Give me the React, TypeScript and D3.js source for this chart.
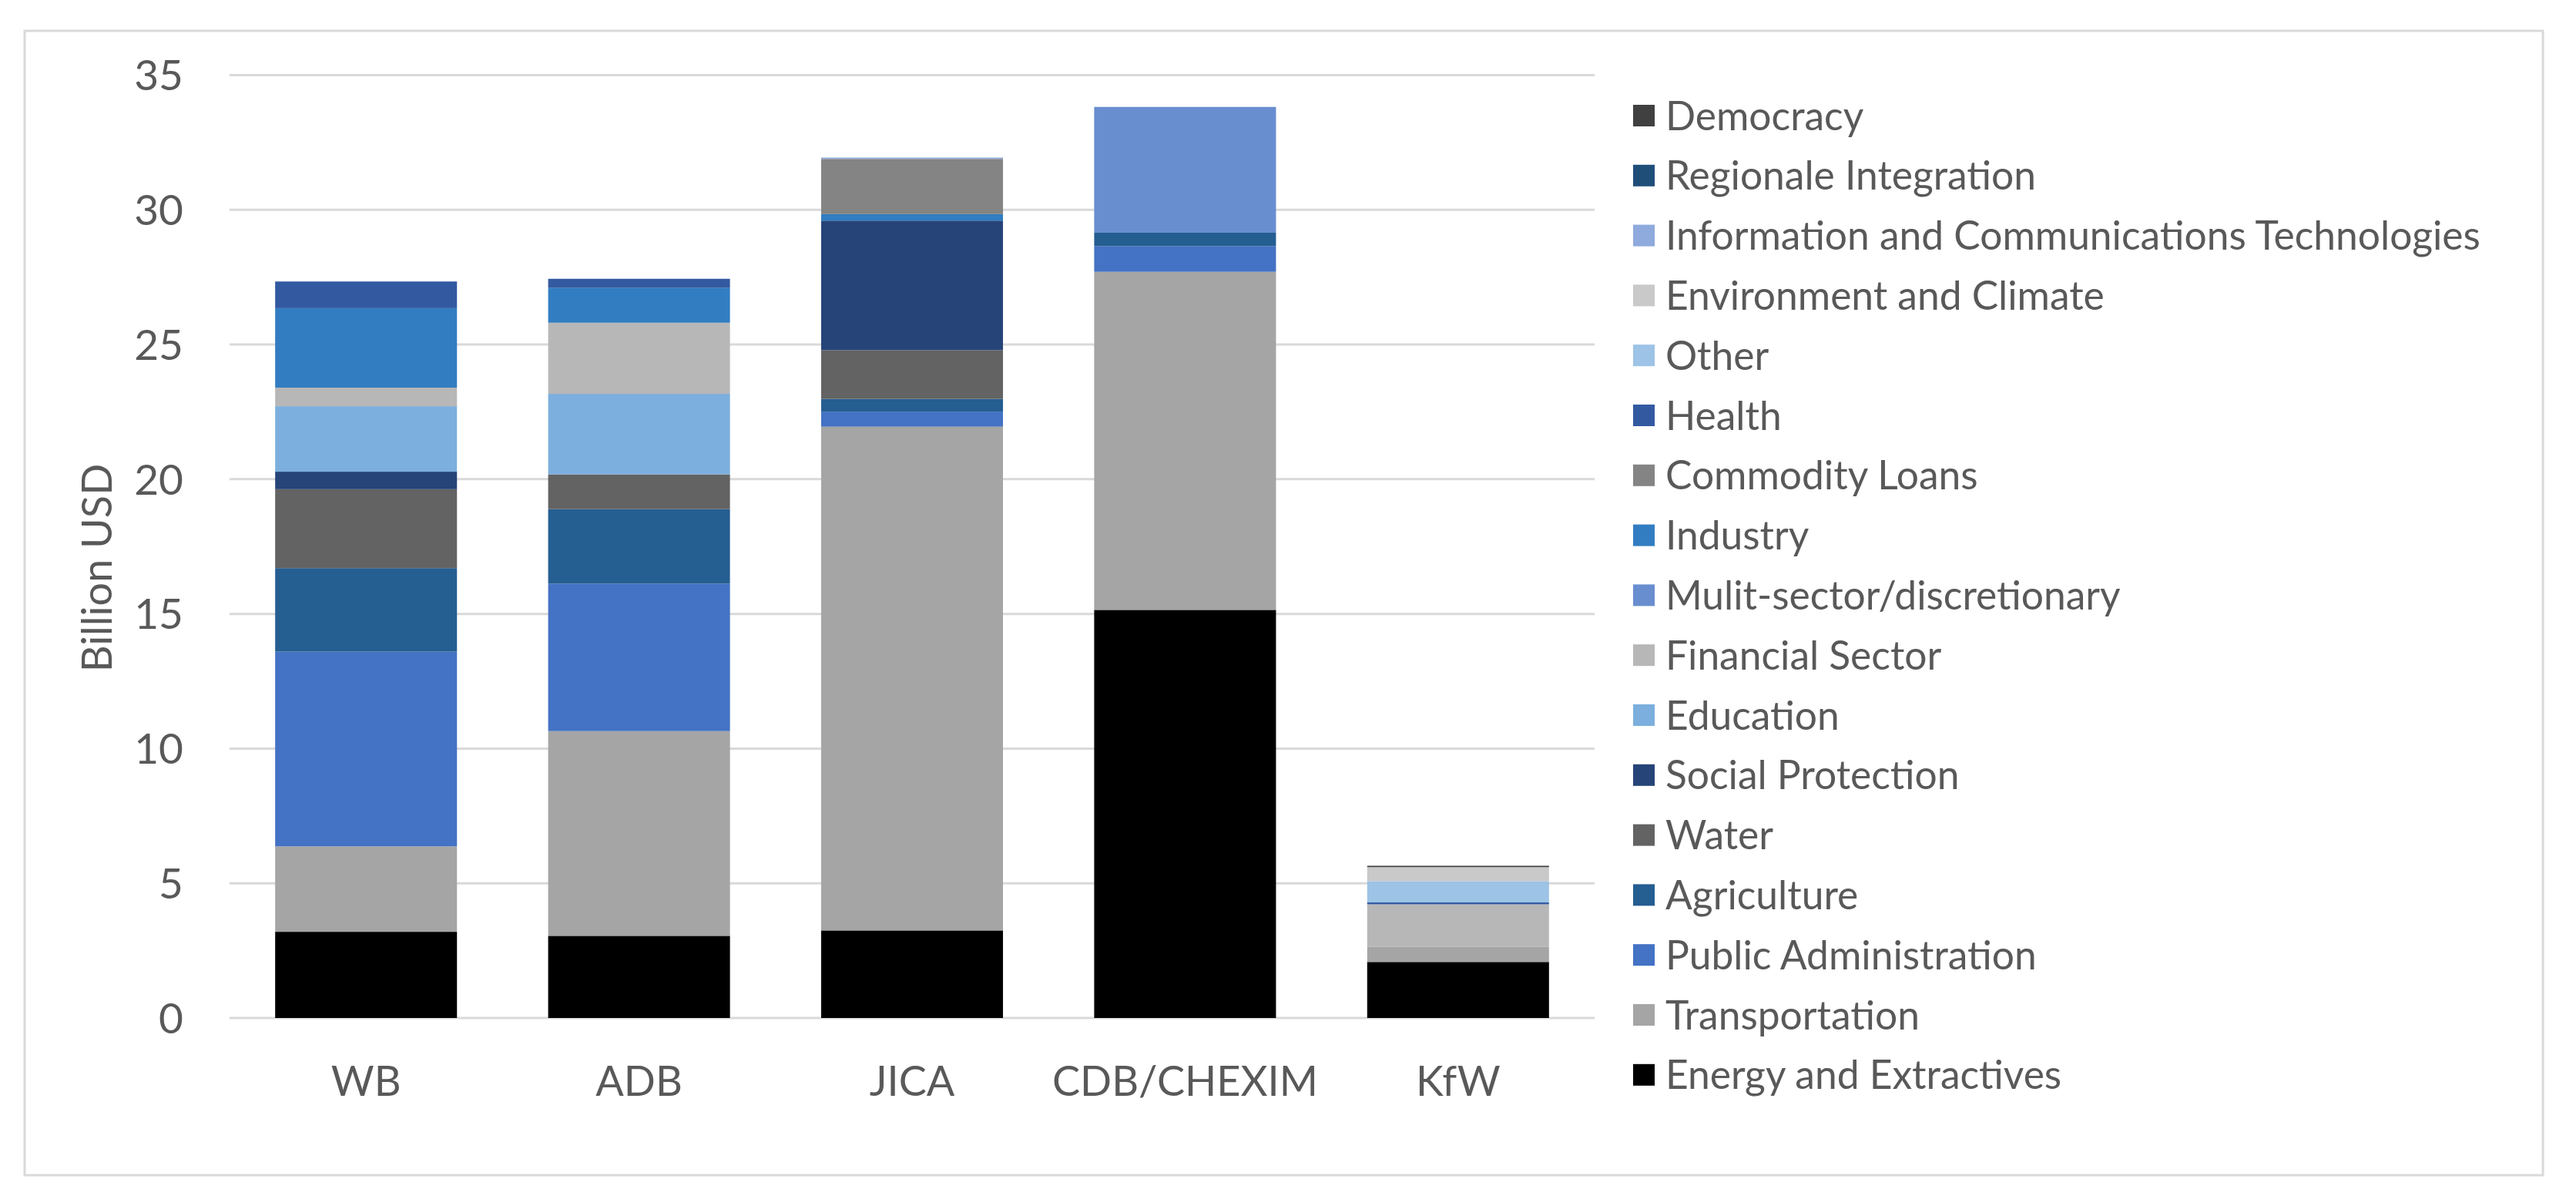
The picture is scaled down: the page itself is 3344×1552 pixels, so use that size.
import React from "react";
import * as d3 from "d3";

const categories = ["WB", "ADB", "JICA", "CDB/CHEXIM", "KfW"];

// Values in billion USD, order: WB, ADB, JICA, CDB/CHEXIM, KfW
const energy = [3.2, 3.05, 3.25, 15.15, 2.08];
const transportation = [3.17, 7.6, 18.7, 12.55, 0.57];
const publicAdmin = [7.23, 5.47, 0.56, 0.95, 0];
const agriculture = [3.1, 2.77, 0.47, 0.5, 0];
const water = [2.93, 1.29, 1.81, 0, 0];
const socialProtection = [0.65, 0, 4.81, 0, 0];
const education = [2.43, 2.99, 0, 0, 0];
const financialSector = [0.69, 2.64, 0, 0, 1.57];
const multiSector = [0, 0, 0, 4.67, 0];
const industry = [2.95, 1.29, 0.24, 0, 0];
const commodityLoans = [0, 0, 2.05, 0, 0];
const health = [0.99, 0.34, 0, 0, 0.07];
const other = [0, 0, 0, 0, 0.79];
const environment = [0, 0, 0, 0, 0.52];
const ict = [0, 0, 0.05, 0, 0];
const regional = [0, 0, 0, 0, 0];
const democracy = [0, 0, 0, 0, 0.05];

const sectorNames = [
  "Energy and Extractives",
  "Transportation",
  "Public Administration",
  "Agriculture",
  "Water",
  "Social Protection",
  "Education",
  "Financial Sector",
  "Mulit-sector/discretionary",
  "Industry",
  "Commodity Loans",
  "Health",
  "Other",
  "Environment and Climate",
  "Information and Communications Technologies",
  "Regionale Integration",
  "Democracy",
];
const sectorValues = [
  energy, transportation, publicAdmin, agriculture, water, socialProtection,
  education, financialSector, multiSector, industry, commodityLoans, health,
  other, environment, ict, regional, democracy,
];
const sectorColors = [
  "#000000", "#a5a5a5", "#4472c4", "#255e91", "#636363", "#264478",
  "#7cafdd", "#b7b7b7", "#698ed0", "#327dc2", "#848484", "#335aa1",
  "#9dc3e6", "#c9c9c9", "#8faadc", "#1f4e79", "#404040",
];
const yTicks = [0, 5, 10, 15, 20, 25, 30, 35];

const FONT = "Lato, 'Open Sans', sans-serif";
const TEXT = "#595959";

export default function App() {
  const W = 3344, H = 1552;
  const x0 = 298, x1 = 2070, yBottom = 1321, yTop = 97.5;

  const x = d3.scaleBand<string>().domain(categories).range([x0, x1]).paddingInner(0.334).paddingOuter(0.167);
  const y = d3.scaleLinear().domain([0, 35]).range([yBottom, yTop]);

  const table = categories.map((c, i) => {
    const row: any = { cat: c };
    sectorNames.forEach((s, k) => (row[s] = sectorValues[k][i]));
    return row;
  });
  const stacked = d3.stack<any>().keys(sectorNames)(table);

  const legendX = 2120, legendY0 = 150, legendStep = 77.8, box = 28;

  return (
    <svg width={W} height={H} style={{ position: "absolute", left: 0, top: 0, background: "#fff" }}>
      <rect x={0} y={0} width={W} height={H} fill="#fff" />
      <rect x={32} y={40} width={3269} height={1485} fill="#fff" stroke="#d9d9d9" strokeWidth={3} />
      {yTicks.map((t) => (
        <g key={t}>
          <line x1={x0} x2={x1} y1={y(t)} y2={y(t)} stroke="#d9d9d9" strokeWidth={3} />
          <text x={238} y={y(t)} dy="0.36em" textAnchor="end" fontFamily={FONT} fontSize={55} fill={TEXT}>
            {t}
          </text>
        </g>
      ))}
      {stacked.map((layer, k) => (
        <g key={sectorNames[k]} fill={sectorColors[k]}>
          {layer.map((d, i) =>
            d[1] - d[0] > 0 ? (
              <rect key={i} x={x(categories[i])} width={x.bandwidth()} y={y(d[1])} height={y(d[0]) - y(d[1])} />
            ) : null
          )}
        </g>
      ))}
      {categories.map((c) => (
        <text key={c} x={(x(c) as number) + x.bandwidth() / 2} y={1422} textAnchor="middle" fontFamily={FONT} fontSize={54} fill={TEXT}>
          {c}
        </text>
      ))}
      <text transform={`translate(145,737) rotate(-90)`} textAnchor="middle" fontFamily={FONT} fontSize={54} fill={TEXT}>
        Billion USD
      </text>
      {sectorNames.slice().reverse().map((s, j) => {
        const k = sectorNames.length - 1 - j;
        const cy = legendY0 + j * legendStep;
        return (
          <g key={s}>
            <rect x={legendX} y={cy - box / 2} width={box} height={box} fill={sectorColors[k]} />
            <text x={2162} y={cy} dy="0.36em" fontFamily={FONT} fontSize={51.5} fill={TEXT}>
              {s}
            </text>
          </g>
        );
      })}
    </svg>
  );
}
